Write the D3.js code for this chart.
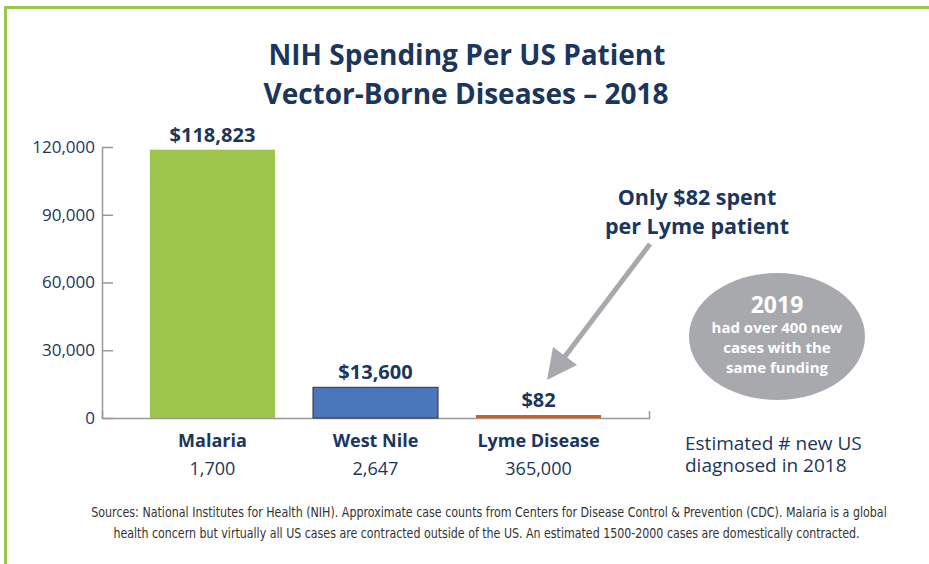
<!DOCTYPE html>
<html>
<head>
<meta charset="utf-8">
<script src="https://cdn.jsdelivr.net/npm/d3@7"></script>
<style>
  html, body { margin: 0; padding: 0; background: #fff; }
  svg { display: block; }
  text { font-family: "Open Sans", "Noto Sans", sans-serif; }
</style>
</head>
<body>
<svg id="chart" width="929" height="564"></svg>
<script>
// Data
const diseases = ["Malaria", "West Nile", "Lyme Disease"];
const spending = [118823, 13600, 82];
const newCases = [1700, 2647, 365000];
const barColors = ["#9dc54c", "#4a77bb", "#d35f1e"];
const yTicks = [0, 30000, 60000, 90000, 120000];

const navy = "#1b365d";
const grey = "#a7a9ac";

const svg = d3.select("#chart");

// Frame (green border on top and left)
svg.append("path")
    .attr("d", "M5.5,564V7.5H929")
    .attr("fill", "none")
    .attr("stroke", "#9dc54c")
    .attr("stroke-width", 3);

// Title
const title = svg.append("text")
    .attr("x", 467)
    .attr("text-anchor", "middle")
    .attr("fill", navy)
    .attr("font-weight", "bold")
    .attr("font-size", "28px");
title.append("tspan").attr("x", 467).attr("y", 65).text("NIH Spending Per US Patient");
title.append("tspan").attr("x", 466).attr("y", 104).text("Vector-Borne Diseases \u2013 2018");

// Scales
const x = d3.scaleBand()
    .domain(diseases)
    .range([102, 649])
    .paddingInner(0.233)
    .paddingOuter(0.294);

const y = d3.scaleLinear()
    .domain([0, 120000])
    .range([418, 147]);

// Y axis
const yAxis = svg.append("g")
    .attr("transform", "translate(102,0)")
    .call(d3.axisLeft(y)
        .tickValues(yTicks)
        .tickFormat(d3.format(","))
        .tickSizeInner(-11)
        .tickSizeOuter(0)
        .tickPadding(7));
yAxis.select(".domain").attr("stroke", "#999").attr("stroke-width", 1.5);
yAxis.selectAll(".tick line").attr("stroke", "#999").attr("stroke-width", 1.5);
yAxis.selectAll(".tick text")
    .attr("fill", navy)
    .attr("font-size", "17px")
    .attr("font-family", "'Open Sans', sans-serif");

// X axis baseline
const xAxis = svg.append("g")
    .attr("transform", "translate(0,418)")
    .call(d3.axisBottom(x).tickSizeInner(0).tickSizeOuter(-7).tickFormat(""));
xAxis.select(".domain").attr("stroke", "#999").attr("stroke-width", 1.5);

const data = diseases.map((d, i) => ({
    name: d, value: spending[i], cases: newCases[i], color: barColors[i]
}));

// Bars (minimum visible height so the tiny Lyme value shows)
svg.selectAll(".bar")
    .data(data)
    .enter()
    .append("rect")
    .attr("class", "bar")
    .attr("x", d => x(d.name))
    .attr("width", x.bandwidth())
    .attr("y", d => Math.min(y(d.value), y(0) - 3))
    .attr("height", d => Math.max(3, y(0) - y(d.value)))
    .attr("fill", d => d.color)
    .attr("stroke", d => d.name === "West Nile" ? "#333" : "none")
    .attr("stroke-width", 1);

// Value labels
svg.selectAll(".value")
    .data(data)
    .enter()
    .append("text")
    .attr("class", "value")
    .attr("x", d => x(d.name) + x.bandwidth() / 2)
    .attr("y", d => Math.min(y(d.value), y(0) - 3) - 8)
    .attr("text-anchor", "middle")
    .attr("fill", navy)
    .attr("font-weight", "bold")
    .attr("font-size", "20px")
    .text(d => "$" + d3.format(",")(d.value));

// Category labels
svg.selectAll(".cat")
    .data(data)
    .enter()
    .append("text")
    .attr("class", "cat")
    .attr("x", d => x(d.name) + x.bandwidth() / 2)
    .attr("y", 447)
    .attr("text-anchor", "middle")
    .attr("fill", navy)
    .attr("font-weight", "bold")
    .attr("font-size", "18px")
    .text(d => d.name);

svg.selectAll(".cases")
    .data(data)
    .enter()
    .append("text")
    .attr("class", "cases")
    .attr("x", d => x(d.name) + x.bandwidth() / 2)
    .attr("y", 475)
    .attr("text-anchor", "middle")
    .attr("fill", navy)
    .attr("font-size", "18px")
    .text(d => d3.format(",")(d.cases));

// Note for case counts
[["Estimated # new US", 450], ["diagnosed in 2018", 472]].forEach(([t, ty]) => {
    svg.append("text")
        .attr("x", 685).attr("y", ty)
        .attr("fill", navy)
        .attr("font-size", "19px")
        .text(t);
});

// Callout text
const callout = svg.append("text")
    .attr("text-anchor", "middle")
    .attr("fill", navy)
    .attr("font-weight", "bold")
    .attr("font-size", "21.5px");
callout.append("tspan").attr("x", 697).attr("y", 205).text("Only $82 spent");
callout.append("tspan").attr("x", 697).attr("y", 234).text("per Lyme patient");

// Arrow pointing at the Lyme bar
svg.append("line")
    .attr("x1", 650).attr("y1", 244)
    .attr("x2", 563).attr("y2", 359)
    .attr("stroke", grey)
    .attr("stroke-width", 5);
svg.append("path")
    .attr("d", "M547,380L553,347L577,365Z")
    .attr("fill", grey);

// Grey bubble
svg.append("ellipse")
    .attr("cx", 777).attr("cy", 336.5)
    .attr("rx", 88).attr("ry", 63.5)
    .attr("fill", grey);

const bubble = svg.append("text")
    .attr("text-anchor", "middle")
    .attr("fill", "#fff")
    .attr("font-weight", "bold");
bubble.append("tspan").attr("x", 777).attr("y", 313).attr("font-size", "23px").text("2019");
bubble.append("tspan").attr("x", 777).attr("y", 333).attr("font-size", "15px").text("had over 400 new");
bubble.append("tspan").attr("x", 777).attr("y", 353).attr("font-size", "15px").text("cases with the");
bubble.append("tspan").attr("x", 777).attr("y", 373).attr("font-size", "15px").text("same funding");

// Sources footnote: condensed by a horizontal scale to the reference width
const footLines = [
    { text: "Sources: National Institutes for Health (NIH). Approximate case counts from Centers for Disease Control & Prevention (CDC). Malaria is a global", cx: 489, cy: 517, w: 796 },
    { text: "health concern but virtually all US cases are contracted outside of the US. An estimated 1500-2000 cases are domestically contracted.", cx: 486.5, cy: 538, w: 747 }
];
footLines.forEach(l => {
    const t = svg.append("text")
        .attr("text-anchor", "middle")
        .attr("fill", "#333")
        .attr("font-size", "14px")
        .style("font-family", "'Liberation Sans Narrow', 'DejaVu Sans Condensed', sans-serif")
        .text(l.text);
    const natural = t.node().getComputedTextLength();
    t.attr("transform", `translate(${l.cx},${l.cy}) scale(${l.w / natural},1)`);
});
</script>
</body>
</html>
